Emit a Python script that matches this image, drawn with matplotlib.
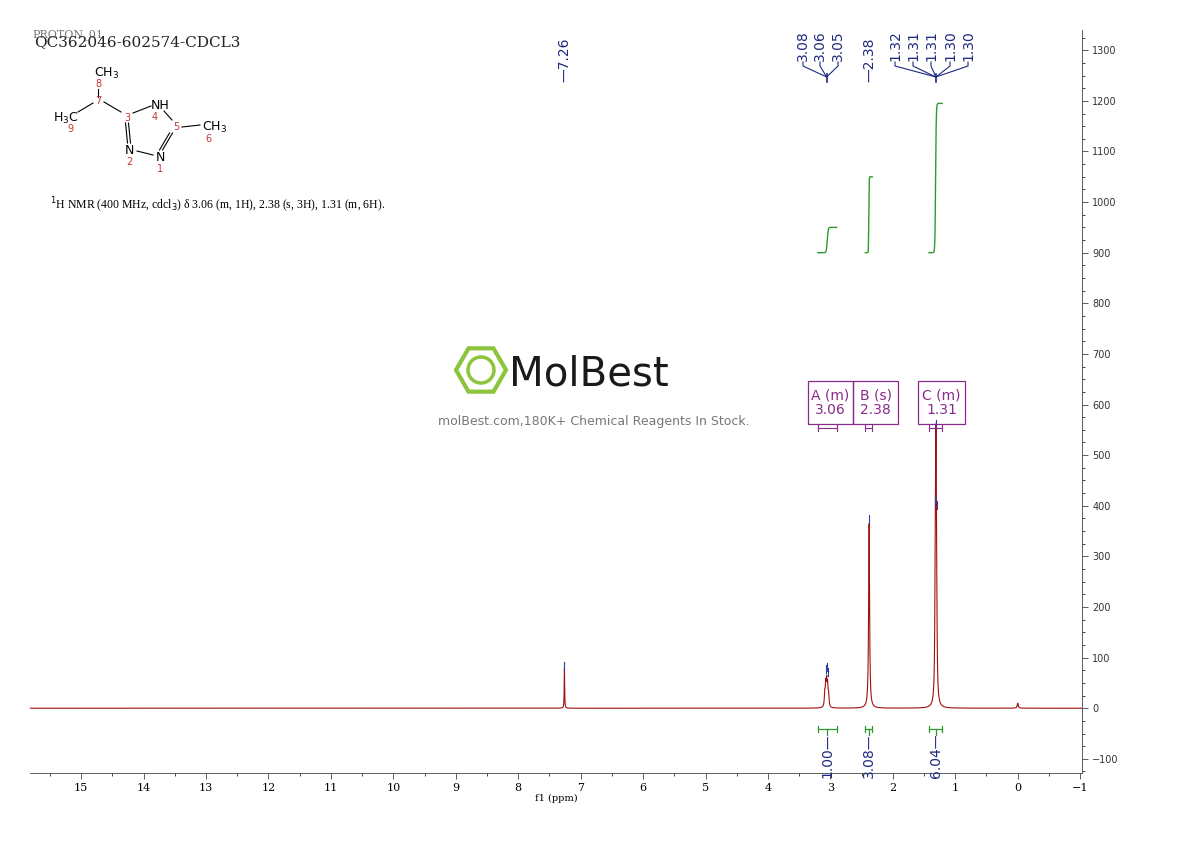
import matplotlib.pyplot as plt
import matplotlib.patches as mpatches
import numpy as np

# peak list: position (ppm), height, half-width
peak_ppm = [7.26, 3.09, 3.075, 3.06, 3.045, 3.03, 2.38, 1.32, 1.31, 1.30, 0.0]
peak_h = [80, 25, 40, 45, 38, 22, 365, 200, 410, 190, 10]
peak_w = [0.004, 0.008, 0.008, 0.008, 0.008, 0.008, 0.009, 0.008, 0.008, 0.008, 0.01]

# integration regions (ppm start, ppm end) and values
integ_ranges = [(3.2, 2.9), (2.44, 2.33), (1.42, 1.21)]
integ_tops = [950, 1050, 1195]
integ_vals = ["1.00", "3.08", "6.04"]

multiplets = [("A (m)", "3.06"), ("B (s)", "2.38"), ("C (m)", "1.31")]

x_ticks = list(range(15, -2, -1))
y_ticks = list(range(-100, 1301, 100))

fig = plt.figure(figsize=(11.9, 8.41), dpi=100)
W, H = 1190, 841
ax = fig.add_axes([30 / W, 1 - 773 / H, (1082 - 30) / W, (773 - 30) / H])

x = np.linspace(15.82, -1.03, 20000)
y = np.full_like(x, 0.0)
for p, h, w in zip(peak_ppm, peak_h, peak_w):
    y += h / (1 + ((x - p) / w) ** 2)
ax.plot(x, y, color="#a01010", lw=0.8)
# blue peak-top markers
for p, yt in [(7.26, 82), (3.075, 75), (3.06, 80), (3.045, 70), (2.38, 372),
              (1.32, 410), (1.31, 560), (1.30, 400)]:
    ax.plot([p, p], [yt - 6, yt + 10], color="#3040a0", lw=0.8)

# integration curves
for (a, b), top in zip(integ_ranges, integ_tops):
    xs = np.linspace(a, b, 200)
    mid = (a + b) / 2
    ys = 900 + (top - 900) / (1 + np.exp((xs - mid) / ((a - b) / 40)))
    ax.plot(xs, ys, color="#2e9a2e", lw=1)

ax.set_xlim(15.82, -1.03)
ax.set_ylim(-128, 1340)
ax.set_xticks(x_ticks)
ax.set_xticks(np.arange(15.5, -1.5, -1), minor=True)
ax.set_xticklabels([str(t) if t >= 0 else "\u22121" for t in x_ticks], fontsize=8, family="DejaVu Serif")
ax.set_xlabel("f1 (ppm)", fontsize=7, family="DejaVu Serif", labelpad=0)
ax.yaxis.tick_right()
ax.set_yticks(y_ticks)
ax.set_yticks(np.arange(-125, 1340, 25), minor=True)
ax.set_yticklabels([str(t) if t >= 0 else "\u2212100" for t in y_ticks], fontsize=7, color="#333333")
ax.tick_params(axis="both", direction="out", length=4, width=0.6, color="#444444")
ax.tick_params(which="minor", length=2, width=0.5)
for s in ["top", "left"]:
    ax.spines[s].set_visible(False)
for s in ["bottom", "right"]:
    ax.spines[s].set_linewidth(0.6)
    ax.spines[s].set_color("#444444")

# overlay in pixel coords
ov = fig.add_axes([0, 0, 1, 1], zorder=5)
ov.set_xlim(0, W)
ov.set_ylim(H, 0)
ov.axis("off")

def px(ppm):
    return 30 + (15.82 - ppm) * (1082 - 30) / (15.82 + 1.03)

navy = "#1e2a80"
lab_fs = 10
# peak labels
ov.text(px(7.26), 82, "\u20147.26", rotation=90, ha="center", va="bottom", fontsize=lab_fs, color=navy)
ov.text(px(2.38), 82, "\u20142.38", rotation=90, ha="center", va="bottom", fontsize=lab_fs, color=navy)
groups = [(["3.08", "3.06", "3.05"], [803, 820, 838], 3.06),
          (["1.32", "1.31", "1.31", "1.30", "1.30"], [895, 913, 931, 950, 968], 1.31)]
for labs, xs_, p in groups:
    for lab, xp in zip(labs, xs_):
        ov.text(xp, 61, lab, rotation=90, ha="center", va="bottom", fontsize=lab_fs, color=navy)
        ov.plot([xp, xp, px(p)], [62, 66, 77], color=navy, lw=0.8)
    ov.plot([px(p), px(p)], [74, 82], color=navy, lw=1.2)

# multiplet boxes
boxes = [(808, 853), (853, 898), (918, 965)]
purple = "#8a2a8a"
for (lab, val), (x0, x1), rng in zip(multiplets, boxes, integ_ranges):
    ov.add_patch(mpatches.Rectangle((x0, 381), x1 - x0, 43, fill=False, ec=purple, lw=0.9))
    ov.text((x0 + x1) / 2, 395, lab, ha="center", va="center", fontsize=10, color=purple)
    ov.text((x0 + x1) / 2, 410, val, ha="center", va="center", fontsize=10, color=purple)
    a, b = px(rng[0]), px(rng[1])
    ov.plot([a, b], [428, 428], color=purple, lw=0.8)
    ov.plot([a, a], [425, 431], color=purple, lw=0.8)
    ov.plot([b, b], [425, 431], color=purple, lw=0.8)

# integral labels
green = "#2e9a2e"
for (a_, b_), v in zip(integ_ranges, integ_vals):
    a, b = px(a_), px(b_)
    c = (a + b) / 2
    ov.plot([a, b], [729, 729], color=green, lw=0.9)
    ov.plot([a, a], [726, 732], color=green, lw=0.9)
    ov.plot([b, b], [726, 732], color=green, lw=0.9)
    ov.plot([c, c], [729, 735], color=green, lw=0.9)
    ov.text(c, 733, v + "\u2014", rotation=90, ha="center", va="top", fontsize=lab_fs, color=navy)

# header
ov.text(32, 35, "PROTON_01", fontsize=8, color="#777777", family="DejaVu Serif", va="center")
ov.text(34, 42, "QC362046-602574-CDCL3", fontsize=11, color="#222222", family="DejaVu Serif", va="center")
ov.text(50, 205, "$^1$H NMR (400 MHz, cdcl$_3$) \u03b4 3.06 (m, 1H), 2.38 (s, 3H), 1.31 (m, 6H).",
        fontsize=8.5, family="Liberation Serif", va="center")

# molecule
bonds = [((98, 89), (98, 97)), ((93, 103), (78, 112)), ((104, 102), (121, 112)),
         ((133, 113), (151, 106)), ((164, 111), (172, 120)), ((182, 127), (200, 125)),
         ((137, 151), (153, 155))]
for (x0, y0), (x1, y1) in bonds:
    ov.plot([x0, x1], [y0, y1], color="black", lw=0.8)
for dx in (-1.5, 1.5):
    ov.plot([127 + dx, 129 + dx], [123, 143], color="black", lw=0.8)
    ov.plot([161 + dx, 171 + dx], [150, 133], color="black", lw=0.8)
atoms = [(107, 73, "CH$_3$"), (66, 118, "H$_3$C"), (160, 105, "NH"), (215, 127, "CH$_3$"),
         (129, 150, "N"), (160, 157, "N")]
for xa, ya, t in atoms:
    ov.text(xa, ya, t, fontsize=9, ha="center", va="center")
nums = [(98, 84, "8"), (98, 101, "7"), (70, 129, "9"), (127, 118, "3"), (155, 117, "4"),
        (176, 127, "5"), (208, 139, "6"), (129, 162, "2"), (160, 169, "1")]
for xa, ya, t in nums:
    ov.text(xa, ya, t, fontsize=7, ha="center", va="center", color="#cc3333")

# watermark
ang = np.radians(np.arange(0, 361, 60))
ov.add_patch(mpatches.Polygon(np.c_[481 + 25 * np.cos(ang), 370 + 25 * np.sin(ang)],
                              closed=True, fill=False, ec="#8cc43c", lw=3))
ov.add_patch(mpatches.Circle((481, 370), 13, fill=False, ec="#8cc43c", lw=2.5))
ov.text(509, 374, "MolBest", fontsize=29, color="#1a1a1a", va="center", ha="left")
ov.text(594, 421, "molBest.com,180K+ Chemical Reagents In Stock.", fontsize=9, color="#777777", ha="center", va="center")

fig.savefig("out.png", dpi=100)
